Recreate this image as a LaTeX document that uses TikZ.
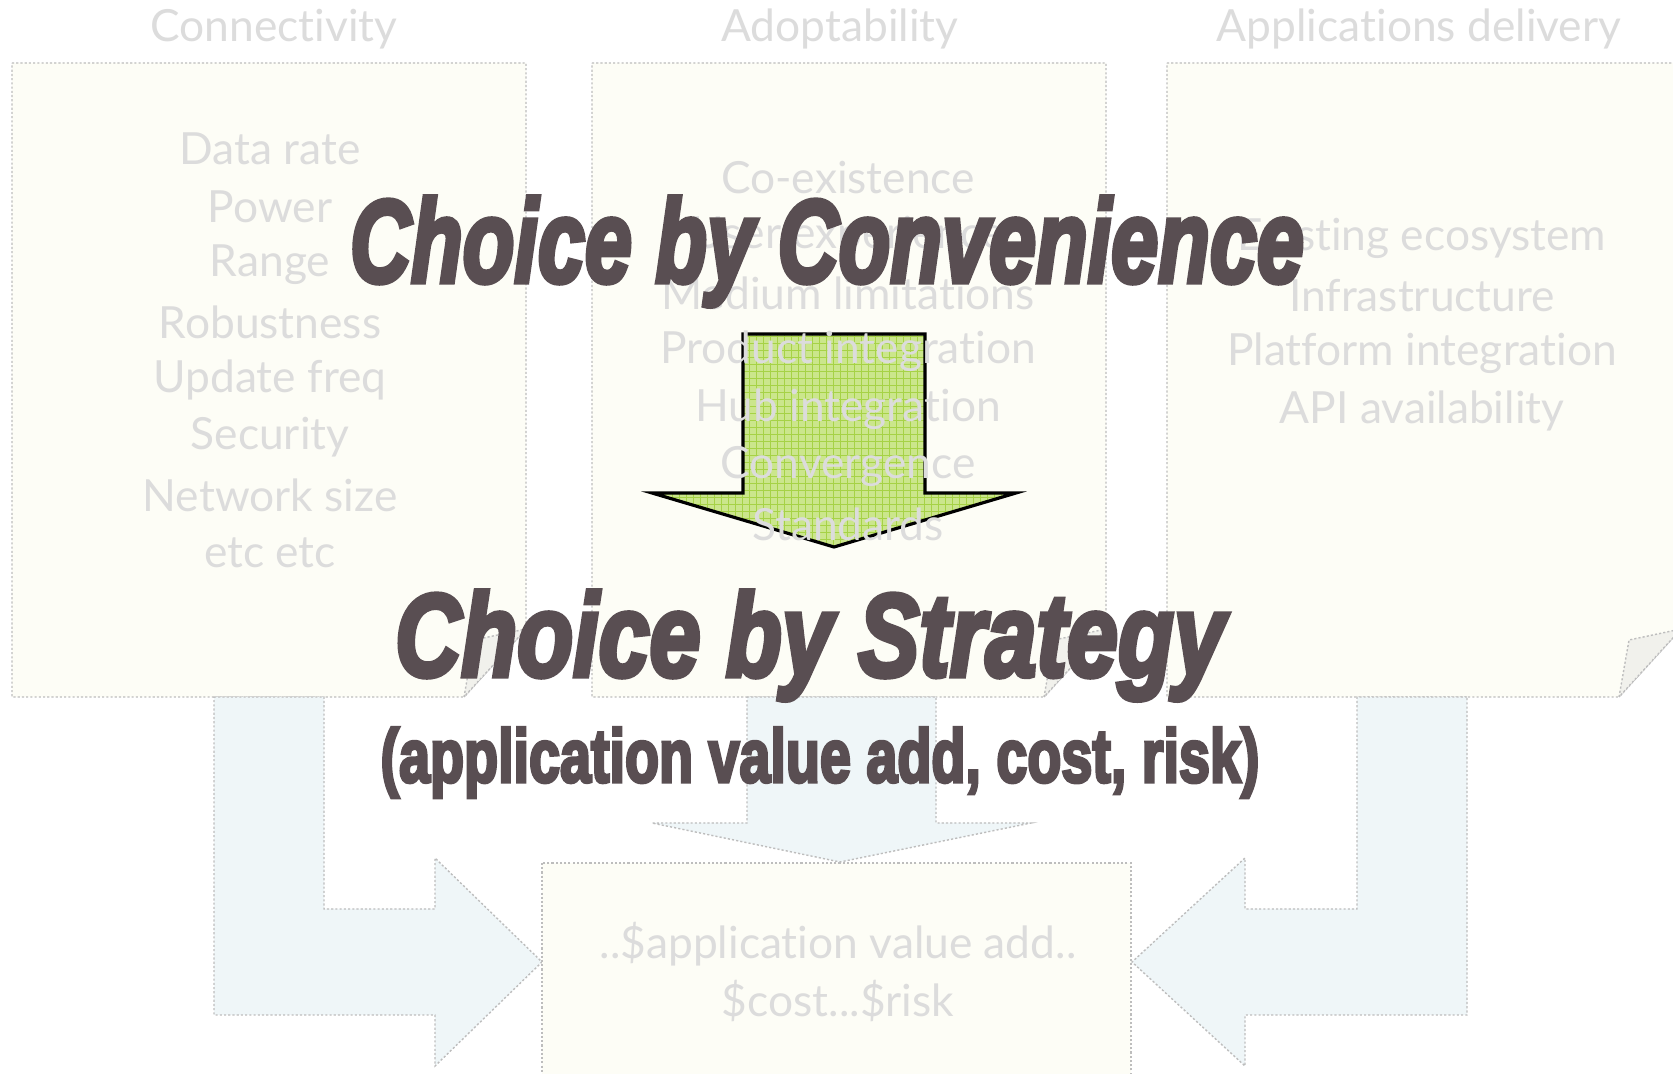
\documentclass[tikz,border=0pt]{standalone}
\usepackage{fontspec}
\setmainfont{Lato}[Ligatures=NoCommon]
\newfontfamily\heavyfont{Liberation Sans}[BoldFeatures={FakeBold=4.5},BoldItalicFeatures={FakeBold=4.5}]
\usepackage{xcolor}
\usepackage{graphicx}
\usepackage{tikz}

\definecolor{boxcream}{HTML}{FDFDF6}
\definecolor{flapgray}{HTML}{F1F1EC}
\definecolor{outlinegray}{HTML}{BDBDBD}
\definecolor{fainttext}{HTML}{DCDCDC}
\definecolor{arrowblue}{HTML}{EFF6F8}
\definecolor{headlinegray}{RGB}{89,78,82}
\definecolor{grassfill}{HTML}{CBE68C}
\definecolor{grassline}{HTML}{A6D246}

\begin{document}
\begin{tikzpicture}[x=0.01cm, y=-0.01cm,
		panel/.style={fill=boxcream, draw=outlinegray, dash pattern=on 0.6pt off 0.6pt, line width=0.4pt},
		flap/.style={fill=flapgray, draw=outlinegray, dash pattern=on 0.6pt off 0.6pt, line width=0.4pt},
		blockarrow/.style={fill=arrowblue, draw=outlinegray, dash pattern=on 0.6pt off 0.6pt, line width=0.4pt},
		faint/.style={text=fainttext, font=\fontsize{12.6}{15}\selectfont, inner sep=0pt},
		headline/.style={text=headlinegray, inner sep=0pt, anchor=base}]
		\def\pw{514};
		\def\ytop{63};
		\def\ybot{697};
		
		\useasboundingbox (0,0) rectangle (1673,1074);
		\clip (0,0) rectangle (1673,1074);
		\fill [white] (0,0) rectangle (1673,1074);
		
		%panels with folded corner
		\foreach \l in {12, 592, 1167} {
			\filldraw [panel] (\l,\ytop) -- ++(\pw,0) -- (\l+\pw,629) -- (\l+452,\ybot) -- (\l,\ybot) -- cycle;
			\filldraw [flap] (\l+452,\ybot) -- (\l+462,640) -- (\l+\pw,629) -- cycle;
		}
		
		%arrows into the result box
		\filldraw [blockarrow] (214,\ybot) -- (324,\ybot) -- (324,909) -- (435,909) -- (435,858) -- (542,962) -- (435,1066) -- (435,1015) -- (214,1015) -- cycle;
		\filldraw [blockarrow] (1467,\ybot) -- (1357,\ybot) -- (1357,909) -- (1245,909) -- (1245,858) -- (1132,962) -- (1245,1066) -- (1245,1015) -- (1467,1015) -- cycle;
		\filldraw [blockarrow] (747,\ybot) -- (936,\ybot) -- (936,823) -- (1031,823) -- (840,862) -- (652,823) -- (747,823) -- cycle;
		
		\filldraw [panel] (542,863) rectangle (1131,1090);
		
		%green arrow
		\fill [grassfill] (743,334) -- (925,334) -- (925,493) -- (1016,493) -- (834,547) -- (652,493) -- (743,493) -- cycle;
		\begin{scope}
			\clip (743,334) -- (925,334) -- (925,493) -- (1016,493) -- (834,547) -- (652,493) -- (743,493) -- cycle;
			\draw [grassline, line width=0.3pt, step=0.07cm] (640,320) grid (1030,560);
		\end{scope}
		\draw [line width=0.9pt, line join=miter] (743,334) -- (925,334) -- (925,493) -- (1016,493) -- (834,547) -- (652,493) -- (743,493) -- cycle;
		
		%titles
		\node [faint] (connectivity title) at (274,29) {Connectivity};
		\node [faint] (adoptability title) at (840,29) {Adoptability};
		\node [faint] (delivery title) at (1419,29) {Applications delivery};
		
		%panel items
		\foreach \item [count=\i] in {Data rate, Power, Range, Robustness, Update freq, Security, Network size, etc etc}
			\node [faint] (connectivity \i) at (270,{91.3+57.7*\i}) {\item};
		\foreach \item [count=\i] in {Co-existence, User experience, Medium limitations, Product integration, Hub integration, Convergence, Standards}
			\node [faint] (adoptability \i) at (848,{120.2+57.8*\i}) {\item};
		\foreach \item [count=\i] in {Existing ecosystem, Infrastructure, Platform integration, API availability}
			\node [faint] (delivery \i) at (1422,{180.3+57.7*\i}) {\item};
		
		\node [faint] (value add) at (838,944) {..\$application value add..};
		\node [faint] (cost risk) at (838,1001) {\$cost...\$risk};
		
		%headlines
		\node [headline, font=\heavyfont\bfseries\itshape\fontsize{33.4}{36}\selectfont] (convenience) at (827,282) {\scalebox{0.72}[1]{Choice by Convenience}};
		\node [headline, font=\heavyfont\bfseries\itshape\fontsize{33.4}{36}\selectfont] (strategy) at (810,676) {\scalebox{0.78}[1]{Choice by Strategy}};
		\node [headline, font=\heavyfont\bfseries\fontsize{21.4}{24}\selectfont] (criteria) at (820,782) {\scalebox{0.74}[1]{(application value add, cost, risk)}};
	\end{tikzpicture}
\end{document}
